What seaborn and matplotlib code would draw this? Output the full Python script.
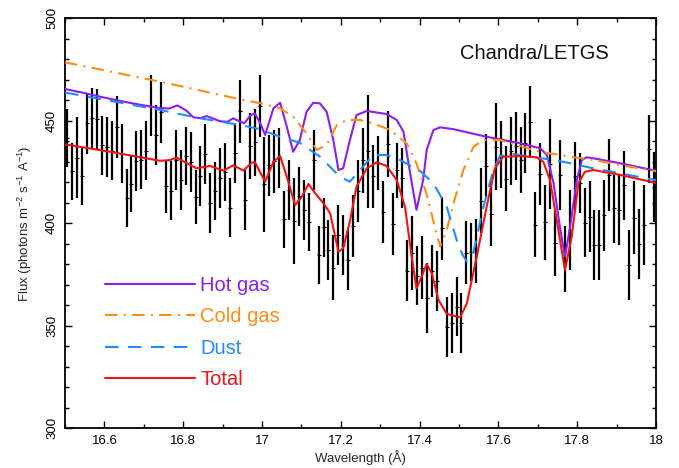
import numpy as np
import pandas as pd
import matplotlib
matplotlib.use("Agg")
import matplotlib.pyplot as plt
import seaborn as sns
from matplotlib.ticker import MultipleLocator, FixedLocator

# ---------------- data ----------------
bin_start = 16.50625
bin_width = 0.0125
n_bins = 120

flux_hi = [455.9, 439.4, 451.8, 436.7, 463.5, 465.9, 465.4, 452.4, 451.8, 449.7,
           462.2, 448.4, 426.4, 433.4, 444.8, 445.3, 449.7, 472.4, 457.8, 469.0,
           431.0, 430.2, 445.3, 435.9, 447.2, 444.3, 426.1, 437.5, 448.5, 424.5,
           430.0, 436.7, 439.1, 422.0, 448.9, 469.7, 426.1, 453.7, 456.0, 472.4,
           442.0, 443.2, 445.6, 446.4, 416.0, 431.0, 422.0, 427.7, 420.9, 414.7,
           445.6, 398.8, 412.3, 401.4, 394.4, 408.7, 404.1, 396.8, 414.0, 431.0,
           446.4, 462.6, 438.3, 442.7, 420.4, 454.6, 415.0, 439.4, 436.7, 392.0,
           403.7, 388.7, 393.6, 380.6, 389.5, 386.3, 413.0, 364.0, 366.0, 374.0,
           366.0, 401.0, 400.0, 401.9, 426.9, 443.7, 420.4, 458.6, 449.7, 437.8,
           451.8, 454.2, 447.2, 453.7, 467.0, 415.3, 439.1, 418.8, 451.0, 406.6,
           440.4, 398.8, 416.3, 439.9, 434.2, 417.2, 420.4, 406.3, 406.6, 421.2,
           441.0, 424.5, 423.7, 435.5, 396.5, 420.4, 406.9, 418.8, 452.9, 435.0]
flux_lo = [427.7, 411.5, 412.3, 409.0, 433.9, 436.7, 435.9, 423.7, 422.8, 420.9,
           431.8, 419.6, 398.1, 405.3, 416.0, 416.7, 420.9, 442.4, 428.5, 439.4,
           405.0, 401.7, 416.3, 406.6, 418.8, 415.5, 399.8, 408.2, 419.3, 395.5,
           401.7, 407.4, 410.7, 393.3, 419.6, 439.4, 396.8, 421.5, 423.0, 442.0,
           396.0, 413.4, 414.7, 417.2, 387.9, 401.4, 380.0, 398.5, 392.0, 386.3,
           416.3, 370.5, 383.8, 372.4, 362.4, 379.8, 374.9, 367.6, 383.8, 400.4,
           415.0, 407.5, 407.4, 416.3, 390.3, 422.8, 384.6, 412.3, 407.4, 361.9,
           367.6, 360.2, 363.0, 346.4, 364.0, 357.0, 382.2, 335.0, 336.7, 344.8,
           336.7, 370.5, 372.0, 371.0, 395.2, 412.3, 389.0, 416.3, 417.2, 405.8,
           418.8, 421.2, 415.0, 424.5, 431.8, 383.5, 409.0, 382.2, 407.0, 374.4,
           406.6, 366.3, 377.0, 405.8, 405.0, 383.5, 385.8, 372.4, 372.4, 386.7,
           405.8, 390.3, 389.5, 401.7, 362.7, 385.1, 372.8, 379.8, 419.6, 400.5]

hot_x = [16.50, 16.55, 16.60, 16.65, 16.70, 16.741, 16.765, 16.785, 16.808, 16.826,
         16.843, 16.860, 16.893, 16.912, 16.927, 16.944, 16.955, 16.972, 16.982, 16.995,
         17.008, 17.029, 17.046, 17.063, 17.079, 17.096, 17.113, 17.130, 17.147, 17.164,
         17.181, 17.194, 17.206, 17.223, 17.240, 17.266, 17.316, 17.342, 17.359, 17.376,
         17.392, 17.409, 17.418, 17.435, 17.452, 17.486, 17.570, 17.655, 17.706, 17.723,
         17.740, 17.756, 17.769, 17.782, 17.799, 17.812, 17.824, 17.841, 17.909, 18.0]
hot_y = [465.5, 463.5, 461.3, 459.3, 457.5, 456.2, 456.0, 457.5, 455.0, 451.7,
         451.3, 452.3, 449.8, 449.5, 451.2, 449.6, 448.8, 452.9, 453.5, 449.0,
         443.1, 456.1, 458.8, 447.1, 434.9, 440.6, 454.4, 458.8, 458.5, 454.4,
         440.6, 426.0, 426.8, 440.6, 452.8, 454.8, 453.3, 450.4, 444.7, 424.4,
         406.5, 421.1, 435.8, 445.5, 446.8, 445.9, 442.2, 439.0, 436.6, 433.3,
         419.5, 398.3, 383.7, 398.3, 421.1, 430.9, 432.2, 431.7, 429.3, 425.6]

cold_x = [16.50, 16.741, 16.944, 16.995, 17.046, 17.079, 17.113, 17.139, 17.164, 17.190,
          17.215, 17.249, 17.282, 17.325, 17.367, 17.392, 17.418, 17.435, 17.452, 17.469,
          17.486, 17.511, 17.537, 17.562, 17.604, 17.655, 17.706, 17.782, 17.841, 17.909,
          18.0]
cold_y = [478.5, 469.1, 460.5, 458.6, 456.1, 452.0, 443.9, 435.8, 438.2, 448.0,
          450.4, 450.4, 448.8, 445.5, 439.0, 429.3, 414.0, 401.0, 388.6, 396.7,
          409.8, 426.0, 437.4, 440.6, 440.6, 437.7, 434.9, 432.5, 430.9, 428.4,
          425.4]

dust_x = [16.50, 16.741, 16.843, 16.910, 16.944, 16.995, 17.046, 17.096, 17.147, 17.198,
          17.223, 17.249, 17.282, 17.316, 17.350, 17.401, 17.435, 17.469, 17.494, 17.508,
          17.520, 17.536, 17.562, 17.587, 17.604, 17.638, 17.680, 17.740, 17.782, 17.841,
          17.909, 18.0]
dust_y = [463.8, 455.3, 451.2, 449.1, 448.0, 445.9, 442.2, 439.3, 432.5, 422.7,
          420.3, 426.0, 433.3, 433.3, 430.9, 425.6, 419.5, 408.0, 391.9, 385.0,
          381.3, 385.4, 408.0, 426.0, 432.8, 433.8, 432.5, 430.9, 429.3, 426.8,
          424.4, 421.0]

total_x = [16.50, 16.614, 16.741, 16.765, 16.783, 16.834, 16.868, 16.902, 16.927, 16.953,
           16.974, 16.982, 17.008, 17.029, 17.046, 17.063, 17.084, 17.101, 17.118, 17.135,
           17.156, 17.173, 17.194, 17.206, 17.223, 17.240, 17.266, 17.291, 17.316, 17.342,
           17.363, 17.380, 17.392, 17.405, 17.418, 17.431, 17.448, 17.469, 17.503, 17.520,
           17.545, 17.570, 17.591, 17.612, 17.655, 17.697, 17.714, 17.731, 17.748, 17.769,
           17.786, 17.803, 17.820, 17.841, 17.909, 18.0]
total_y = [438.5, 434.9, 430.5, 430.8, 432.0, 426.8, 428.0, 425.7, 428.3, 425.7,
           429.6, 429.8, 420.3, 430.0, 432.8, 422.7, 408.9, 413.0, 419.2, 414.6,
           409.8, 404.9, 386.1, 387.8, 400.8, 417.9, 426.8, 429.8, 428.0, 421.1,
           408.0, 383.7, 368.3, 373.9, 380.1, 375.6, 362.6, 355.8, 354.1, 361.0,
           383.7, 408.0, 426.8, 432.5, 432.8, 432.2, 430.0, 421.1, 401.6, 377.2,
           393.5, 419.5, 425.2, 426.0, 423.6, 419.7]

x_ticks = [16.6, 16.8, 17.0, 17.2, 17.4, 17.6, 17.8, 18.0]
x_tick_labels = ["16.6", "16.8", "17", "17.2", "17.4", "17.6", "17.8", "18"]
y_ticks = [300, 350, 400, 450, 500]

labels = ["Hot gas", "Cold gas", "Dust", "Total"]
colors = ["#8C1EF0", "#FF8C14", "#1E8CFF", "#F01414"]

# ---------------- style ----------------
sns.set_theme(style="ticks")
plt.rcParams["font.family"] = ["Liberation Sans", "DejaVu Sans"]
plt.rcParams["mathtext.fontset"] = "custom"
plt.rcParams["mathtext.rm"] = "Liberation Sans"
plt.rcParams["mathtext.it"] = "Liberation Sans:italic"

fig = plt.figure(figsize=(6.79, 4.68), dpi=100)
ax = fig.add_axes([65 / 679, 1 - 428.3 / 468, (656 - 65) / 679, (428.3 - 18.3) / 468])

wl = bin_start + bin_width * np.arange(n_bins)
hi = np.array(flux_hi)
lo = np.array(flux_lo)
data = pd.DataFrame({"wl": wl, "flux": (hi + lo) / 2, "err": (hi - lo) / 2})

ax.errorbar(data["wl"], data["flux"], yerr=data["err"], fmt="none",
            ecolor="black", elinewidth=1.6, capsize=0, zorder=2)
sns.scatterplot(data=data, x="wl", y="flux", marker="_", s=6, color="black",
                linewidth=0.8, ax=ax, zorder=3, legend=False)

lw = 1.5
models = [
    (hot_x, hot_y, dict(linestyle="-")),
    (cold_x, cold_y, dict(dashes=(6, 3, 1, 3))),
    (dust_x, dust_y, dict(dashes=(6.5, 4.5))),
    (total_x, total_y, dict(linestyle="-")),
]
for (mx, my, st), lab, col in zip(models, labels, colors):
    df = pd.DataFrame({"x": mx, "y": my})
    sns.lineplot(data=df, x="x", y="y", color=col, linewidth=lw, ax=ax,
                 sort=False, zorder=4, label=lab, **st)

ax.set_xlim(16.5, 18.0)
ax.set_ylim(300, 500)
ax.xaxis.set_major_locator(FixedLocator(x_ticks))
ax.set_xticklabels(x_tick_labels)
ax.xaxis.set_minor_locator(MultipleLocator(0.1))
ax.yaxis.set_major_locator(FixedLocator(y_ticks))
ax.yaxis.set_minor_locator(MultipleLocator(10))
ax.tick_params(which="both", direction="in", top=True, right=True,
               labelsize=9.5, colors="black", width=1.0)
ax.tick_params(which="major", length=5, pad=5)
ax.tick_params(which="minor", length=3)
for lab in ax.get_yticklabels():
    lab.set_rotation(90)
    lab.set_va("center")
for sp in ax.spines.values():
    sp.set_linewidth(1.3)
    sp.set_color("black")

ax.set_xlabel("Wavelength (Å)", fontsize=9.5, labelpad=2)
ax.set_ylabel("Flux (photons m$^{-2}$ s$^{-1}$ A$^{-1}$)", fontsize=9.5, labelpad=9)

ax.text(0.795, 0.915, "Chandra/LETGS", transform=ax.transAxes, fontsize=14.5,
        ha="center", va="center", color="#111111")

leg = ax.legend(loc="upper left", bbox_to_anchor=(0.067, 0.372), frameon=False,
                fontsize=14.5, handlelength=4.5, handletextpad=0.25,
                labelspacing=0.62, borderpad=0, borderaxespad=0,
                labelcolor="linecolor")

fig.savefig("out.png", dpi=100)
